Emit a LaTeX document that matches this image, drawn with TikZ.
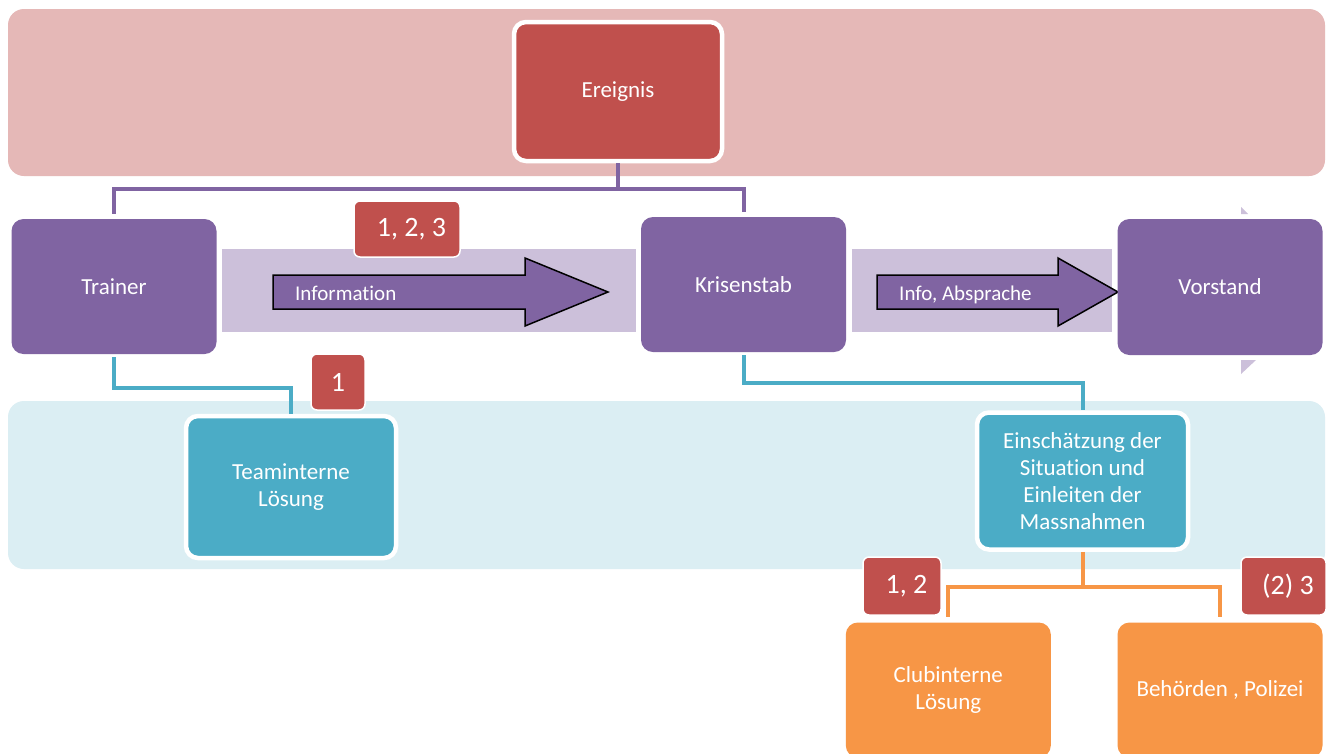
\documentclass[tikz,border=0pt]{standalone}
\usepackage{fontspec}
\setmainfont{Carlito}[Ligatures=NoCommon]
\definecolor{cpurple}{HTML}{8064A2}
\definecolor{cred}{HTML}{C0504D}
\definecolor{cteal}{HTML}{4BACC6}
\definecolor{corange}{HTML}{F79646}
\definecolor{cpink}{HTML}{E5B8B7}
\definecolor{cpale}{HTML}{DBEEF3}
\definecolor{clav}{HTML}{CCC0DA}
\begin{document}
\begin{tikzpicture}[x=1pt,y=-1pt,
  box/.style={rectangle, rounded corners=12pt, text=white, align=center,
    font=\fontsize{23}{27}\selectfont, inner sep=0pt},
  purplebox/.style={box, fill=cpurple, minimum width=205pt, minimum height=135pt},
  orangebox/.style={box, fill=corange, minimum width=205pt, minimum height=135pt},
  framed/.style={draw=white, line width=4.5pt},
  tag/.style={rectangle, rounded corners=6pt, fill=cred, draw=white, line width=1.5pt,
    text=white, font=\fontsize{28}{32}\selectfont, inner sep=0pt},
  conn/.style={line width=4pt},
  blockarrow/.style={fill=cpurple, draw=black, line width=1.5pt, line join=miter},
  arrowtext/.style={anchor=base west, text=white, font=\fontsize{21}{25}\selectfont, inner sep=0pt}
]
\useasboundingbox (0,0) rectangle (1332,753);
\clip (0,0) rectangle (1332,753);
\fill[white] (0,0) rectangle (1332,753);

% background bands
\fill[cpink, rounded corners=16pt] (8,9) rectangle (1325,176);
\fill[cpale, rounded corners=16pt] (8,401) rectangle (1325,569);
\fill[clav] (222,249) rectangle (636,332);
\fill[clav] (852,249) rectangle (1112,332);

% small triangles
\fill[clav] (1241,207) -- (1248,214) -- (1241,214) -- cycle;
\fill[clav] (1241,360) -- (1256,360) -- (1241,374) -- cycle;

% block arrows
\filldraw[blockarrow] (273,275) -- (525,275) -- (525,258) -- (608,292) -- (525,326) -- (525,309) -- (273,309) -- cycle;
\node[arrowtext] (info1) at (295,300) {Information};
\filldraw[blockarrow] (877,275) -- (1058,275) -- (1058,258) -- (1118,292) -- (1058,326) -- (1058,309) -- (877,309) -- cycle;
\node[arrowtext] (info2) at (899,300) {Info, Absprache};

% nodes
\node[box, fill=cred, framed, minimum width=208pt, minimum height=139pt] (ereignis) at (618,91.5) {\raisebox{-2pt}{Ereignis}};
\node[purplebox] (trainer) at (114,286.5) {Trainer};
\node[purplebox] (krisen) at (743.5,284.5) {Krisenstab};
\node[purplebox, minimum height=136pt] (vorstand) at (1220,287) {Vorstand};
\node[box, fill=cteal, framed, minimum width=210pt, minimum height=142pt] (teamint) at (291,487) {Teaminterne\\Lösung};
\node[box, fill=cteal, framed, minimum width=211pt, minimum height=137pt] (einsch) at (1082.5,481) {Einschätzung der\\Situation und\\Einleiten der\\Massnahmen};
\node[orangebox] (club) at (948.3,690) {Clubinterne\\Lösung};
\node[orangebox] (behoerden) at (1220,690) {Behörden , Polizei};

% connectors
\coordinate (pj) at (618,189);
\draw[conn, cpurple, shorten >=5pt] (ereignis.south) -- (pj) -| (trainer.north);
\draw[conn, cpurple, shorten >=5pt] (pj) -| (krisen.north);
\coordinate (tj) at (291,387.5);
\draw[conn, cteal, shorten <=3pt] (trainer.south) |- (tj) -- (teamint.north);
\coordinate (kj) at (1082.5,383);
\draw[conn, cteal, shorten <=3pt] (krisen.south) |- (kj) -- (einsch.north);
\coordinate (oj) at (1082.5,586.5);
\draw[conn, corange] (einsch.south) -- (oj);
\draw[conn, corange, shorten >=5pt] (oj) -| (club.north);
\draw[conn, corange, shorten >=5pt] (oj) -| (behoerden.north);

% tags
\node[tag, minimum width=106pt, minimum height=56pt] (t123) at (407,229) {\hspace*{9pt}1, 2, 3};
\node[tag, minimum width=54pt, minimum height=56pt] (t1) at (338,382) {1};
\node[tag, minimum width=78pt, minimum height=58pt] (t12) at (902,586) {\hspace*{9pt}1, 2};
\node[tag, minimum width=85pt, minimum height=58pt] (t23) at (1283.5,586) {\hspace*{9pt}(2) 3};
\end{tikzpicture}
\end{document}
